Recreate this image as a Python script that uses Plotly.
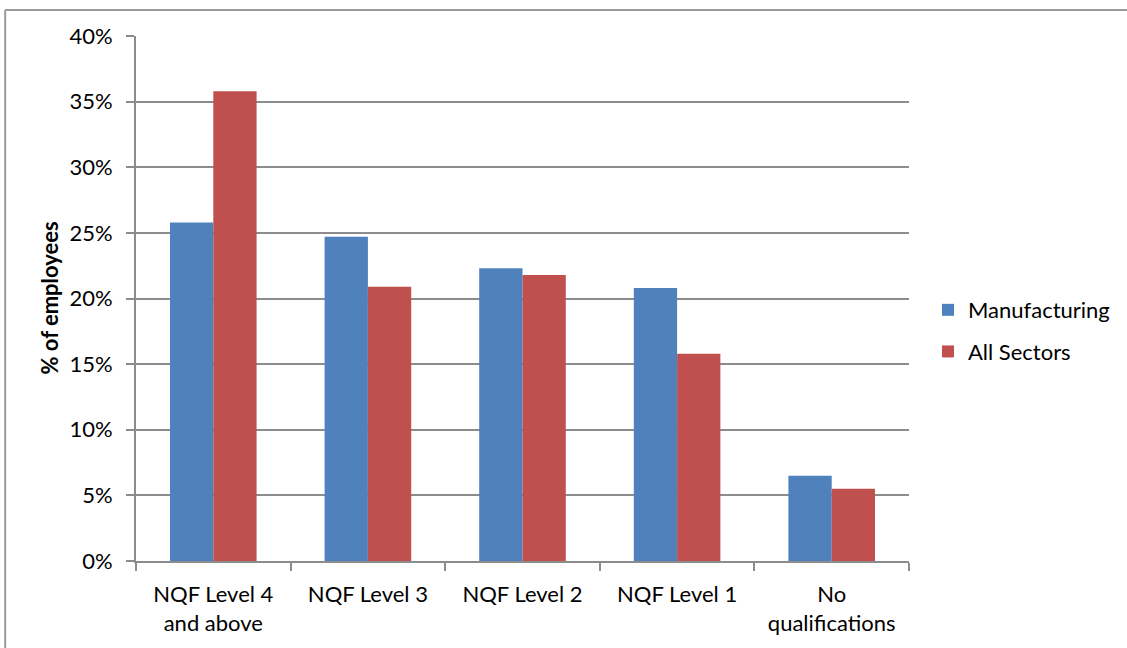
import plotly.graph_objects as go

# Share of employees by highest qualification level
categories = ["NQF Level 4<br>and above", "NQF Level 3", "NQF Level 2", "NQF Level 1", "No<br>qualifications"]
manufacturing = [25.8, 24.7, 22.3, 20.8, 6.5]
all_sectors = [35.8, 20.9, 21.8, 15.8, 5.5]
y_ticks = [0, 5, 10, 15, 20, 25, 30, 35, 40]
y_tick_text = [f"{v}%" for v in y_ticks]

FONT = "Lato, Carlito, Calibri, sans-serif"
GRID = "#8c8c8c"
FS = 22

W, H = 1127, 648
L, R, T, B = 136, 910, 36, 563  # plot area edges in pixels


def px_x(p):
    return (p - L) / (R - L)


def px_y(p):
    return (B - p) / (B - T)


fig = go.Figure()
fig.add_trace(go.Bar(name="Manufacturing", x=categories, y=manufacturing,
                     marker=dict(color="#4F81BD", line=dict(width=0)),
                     legendgroup="m"))
fig.add_trace(go.Bar(name="All Sectors", x=categories, y=all_sectors,
                     marker=dict(color="#C0504D", line=dict(width=0)),
                     legendgroup="a"))

fig.update_layout(
    width=W, height=H,
    margin=dict(l=L, r=W - R, t=T, b=H - B, pad=0),
    paper_bgcolor="white", plot_bgcolor="white",
    font=dict(family=FONT, size=FS, color="#000000"),
    barmode="group", bargap=0.44, bargroupgap=0,
    showlegend=True,
    legend=dict(x=px_x(929), y=px_y(290), xanchor="left", yanchor="top",
                font=dict(size=FS), tracegroupgap=10,
                bgcolor="rgba(0,0,0,0)"),
    xaxis=dict(type="category", showline=True, linecolor=GRID, linewidth=2,
               ticks="outside", tickson="boundaries", ticklen=8, tickwidth=2,
               tickcolor=GRID, showgrid=False, ticklabelstandoff=13,
               tickfont=dict(size=FS)),
    yaxis=dict(range=[0, 40], tickvals=y_ticks, ticktext=y_tick_text,
               showline=True, linecolor=GRID, linewidth=2,
               ticks="outside", ticklen=8, tickwidth=2, tickcolor=GRID,
               showgrid=True, gridcolor=GRID, gridwidth=2,
               zeroline=False, ticklabelstandoff=9,
               tickfont=dict(size=FS)),
    annotations=[dict(text="<b>% of employees</b>", textangle=-90,
                      x=px_x(49), y=0.5, xref="paper", yref="paper",
                      xanchor="center", yanchor="middle", showarrow=False,
                      font=dict(size=FS))],
    shapes=[
        dict(type="line", xref="paper", yref="paper",
             x0=px_x(5), x1=px_x(W + 5), y0=px_y(10), y1=px_y(10),
             line=dict(color="#9a9a9a", width=2)),
        dict(type="line", xref="paper", yref="paper",
             x0=px_x(5), x1=px_x(5), y0=px_y(10), y1=px_y(H + 5),
             line=dict(color="#9a9a9a", width=2)),
    ],
)

fig.write_html("out.html")
